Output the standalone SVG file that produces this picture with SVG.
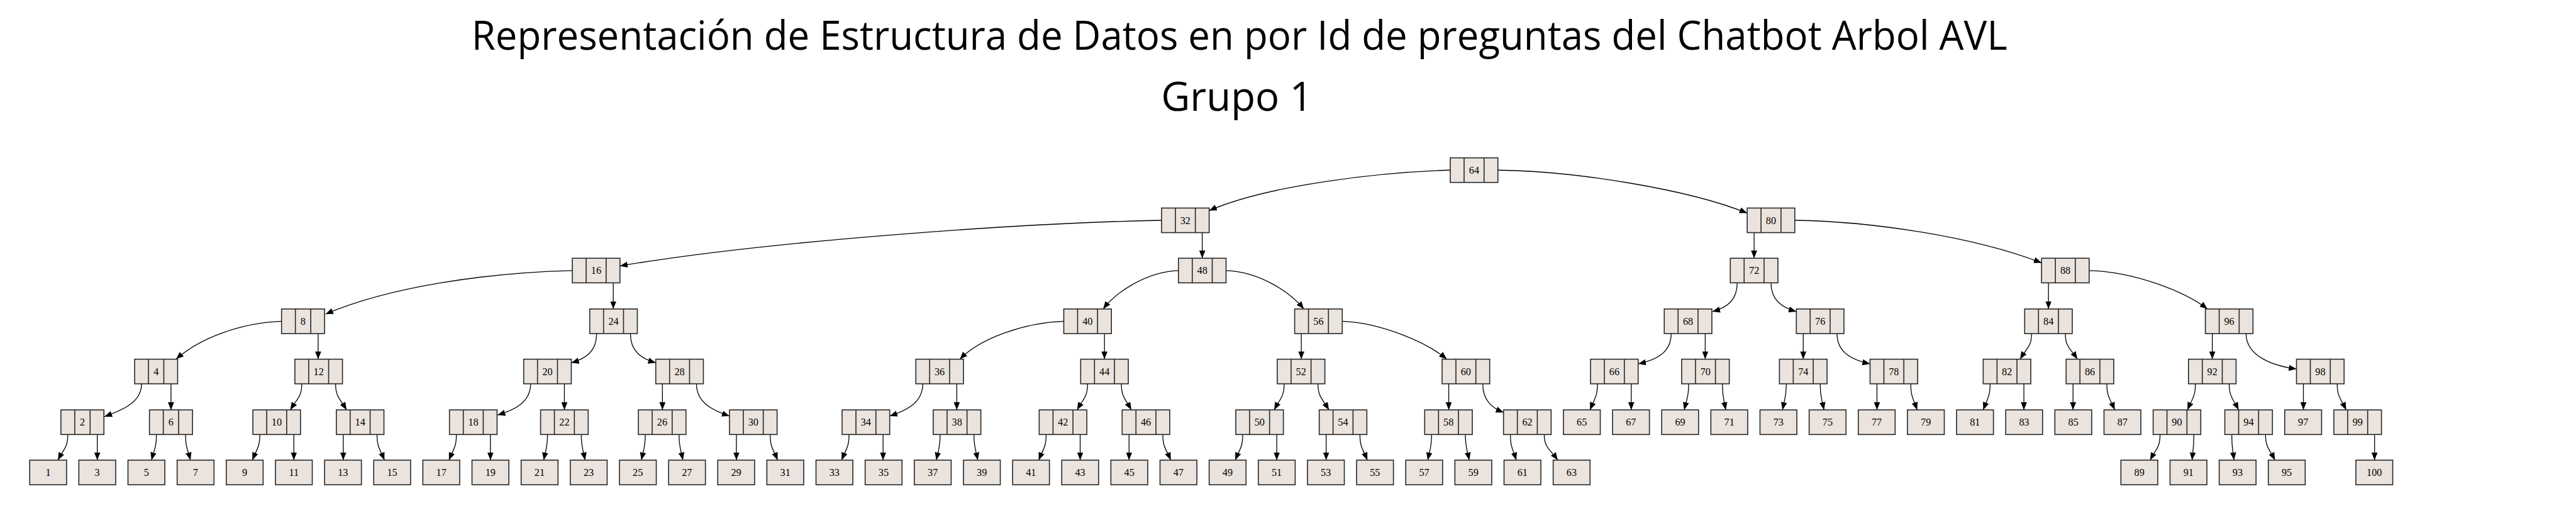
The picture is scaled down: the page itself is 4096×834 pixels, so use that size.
<svg xmlns="http://www.w3.org/2000/svg" width="4096" height="834" viewBox="0 0 4096 834">
<style>
.bx rect,.bx path{fill:#ebe3dd;stroke:#2b2b2b;stroke-width:2}
.n text{font-family:"Liberation Serif","Times New Roman",serif;font-size:20px;text-anchor:middle;fill:#000}
.e path{fill:none;stroke:#000;stroke-width:1.6;marker-end:url(#ah)}
.t{font-family:"Open Sans","Noto Sans",sans-serif;font-size:78px;text-anchor:middle;fill:#000}
</style>
<defs>
<marker id="ah" markerUnits="userSpaceOnUse" markerWidth="15" markerHeight="12" viewBox="0 0 15 12" refX="15" refY="6" orient="auto"><path d="M0,0L15,6L0,12z" fill="#000"/></marker>
<g id="t2" class="bx"><rect width="93" height="48"/><path d="M27,0V48M66,0V48"/></g>
<g id="t1" class="bx"><rect width="84" height="48"/><path d="M27,0V48M57,0V48"/></g>
<g id="t0" class="bx"><rect width="72" height="48"/></g>
</defs>
<rect width="4096" height="834" fill="#fff"/>
<g transform="scale(0.81399)">
<g id="title">
<text class="t" x="2421" y="97" textLength="3000" lengthAdjust="spacingAndGlyphs">Representación de Estructura de Datos en por Id de preguntas del Chatbot Arbol AVL</text>
<text class="t" x="2416" y="216">Grupo 1</text>
</g>
<g id="connectors" class="e">
<path d="M2833,332C2700,336 2480,360 2362,411"/>
<path d="M2926,332C3080,334 3300,370 3413,416"/>
<path d="M2269,430C2000,435 1500,470 1211,519"/>
<path d="M2348.5,454V504"/>
<path d="M3426.5,454V504"/>
<path d="M3506,430C3650,432 3850,460 3988,513"/>
<path d="M1118,528C950,532 760,560 636,613"/>
<path d="M1198,552V603"/>
<path d="M2302,528C2240,530 2180,570 2155,603"/>
<path d="M2395,528C2460,530 2520,570 2547,603"/>
<path d="M3393.5,552C3393.5,585 3375,600 3345,608"/>
<path d="M3459.5,552C3459.5,585 3480,600 3509,608"/>
<path d="M4001.5,552V603"/>
<path d="M4081,528C4170,530 4270,570 4312,603"/>
<path d="M550,627C470,630 390,660 344,701"/>
<path d="M621.5,651V701"/>
<path d="M1165.5,651C1165.5,685 1145,700 1116,708"/>
<path d="M1231.5,651C1231.5,685 1252,700 1281,708"/>
<path d="M2078,627C2000,630 1915,660 1875,701"/>
<path d="M2157.5,651V701"/>
<path d="M2542,651V701"/>
<path d="M2622,627C2700,630 2790,670 2826,701"/>
<path d="M3264.5,651C3264.5,688 3235,703 3200,710"/>
<path d="M3331,651V701"/>
<path d="M3522.5,651V701"/>
<path d="M3588.5,651C3588.5,688 3618,703 3653,710"/>
<path d="M3968.5,651C3968.5,676 3959.5,679 3946,701"/>
<path d="M4034.5,651C4034.5,676 4043.4,679 4058,701"/>
<path d="M4321.5,651V701"/>
<path d="M4387.5,651C4387.5,695 4440,714 4486,720"/>
<path d="M276.5,749C276.5,785 240,800 204,813"/>
<path d="M334,749V800"/>
<path d="M589.5,749C589.5,774 580.5,778 567,800"/>
<path d="M655.5,749C655.5,774 664.1,778 677,800"/>
<path d="M1036.5,749C1036.5,785 1005,800 972,810"/>
<path d="M1102.5,749V800"/>
<path d="M1294,749V800"/>
<path d="M1360.5,749C1360.5,785 1390,800 1425,812"/>
<path d="M1802.5,749C1802.5,785 1773,800 1738,812"/>
<path d="M1869,749V800"/>
<path d="M2124.5,749C2124.5,774 2116.3,778 2104,800"/>
<path d="M2190.5,749C2190.5,774 2197.8,778 2210,800"/>
<path d="M2508.5,749C2508.5,774 2500.7,778 2489,800"/>
<path d="M2574.5,749C2574.5,774 2582.9,778 2596,800"/>
<path d="M2830,749V800"/>
<path d="M2896.5,749C2896.5,782 2915,796 2937,805"/>
<path d="M3120.5,749C3120.5,774 3114.7,778 3106,800"/>
<path d="M3186.5,749V800"/>
<path d="M3298.5,749C3298.5,774 3295.1,778 3290,800"/>
<path d="M3364.5,749C3364.5,774 3367.1,778 3371,800"/>
<path d="M3489.5,749C3489.5,774 3486.5,778 3482,800"/>
<path d="M3555.5,749C3555.5,774 3558.5,778 3563,800"/>
<path d="M3666.5,749V800"/>
<path d="M3732.5,749C3732.5,774 3737.5,778 3745,800"/>
<path d="M3887.5,749C3887.5,774 3882.1,778 3874,800"/>
<path d="M3953.5,749V800"/>
<path d="M4049.5,749V800"/>
<path d="M4115.5,749C4115.5,774 4121.7,778 4131,800"/>
<path d="M4288.5,749C4288.5,774 4282.3,778 4273,800"/>
<path d="M4354.5,749C4354.5,774 4361.9,778 4373,800"/>
<path d="M4499.5,749V800"/>
<path d="M4565.5,749C4565.5,774 4572.5,778 4583,800"/>
<path d="M132.5,848C132.5,873 124.7,876 113,898"/>
<path d="M190,848V898"/>
<path d="M305.5,848C305.5,873 301.7,876 296,898"/>
<path d="M362.5,848C362.5,873 366.3,876 372,898"/>
<path d="M507.5,848C507.5,873 501.7,876 493,898"/>
<path d="M574,848V898"/>
<path d="M670.5,848V898"/>
<path d="M736.5,848C736.5,873 742.3,876 751,898"/>
<path d="M891.5,848C891.5,873 885.7,876 877,898"/>
<path d="M958,848V898"/>
<path d="M1069.5,848C1069.5,873 1066.5,876 1062,898"/>
<path d="M1135.5,848C1135.5,873 1138.5,876 1143,898"/>
<path d="M1260.5,848C1260.5,873 1257.5,876 1253,898"/>
<path d="M1326.5,848C1326.5,873 1329.5,876 1334,898"/>
<path d="M1438.5,848V898"/>
<path d="M1504.5,848C1504.5,873 1510.3,876 1519,898"/>
<path d="M1658.5,848C1658.5,873 1652.7,876 1644,898"/>
<path d="M1725,848V898"/>
<path d="M1836.5,848C1836.5,873 1833.5,876 1829,898"/>
<path d="M1902.5,848C1902.5,873 1905.5,876 1910,898"/>
<path d="M2043.5,848C2043.5,873 2037.7,876 2029,898"/>
<path d="M2110,848V898"/>
<path d="M2205.5,848V898"/>
<path d="M2271.5,848C2271.5,873 2277.7,876 2287,898"/>
<path d="M2427.5,848C2427.5,873 2421.7,876 2413,898"/>
<path d="M2494,848V898"/>
<path d="M2590.5,848V898"/>
<path d="M2656.5,848C2656.5,873 2662.3,876 2671,898"/>
<path d="M2796.5,848C2796.5,873 2793.5,876 2789,898"/>
<path d="M2862.5,848C2862.5,873 2865.5,876 2870,898"/>
<path d="M2950.5,848C2950.5,873 2955.1,876 2962,898"/>
<path d="M3016.5,848C3016.5,873 3027.1,876 3043,898"/>
<path d="M4219.5,848C4219.5,873 4211.7,876 4200,898"/>
<path d="M4285.5,848C4285.5,873 4284,876 4282,898"/>
<path d="M4359.5,848C4359.5,873 4361.3,876 4364,898"/>
<path d="M4425.5,848C4425.5,873 4432.9,876 4444,898"/>
<path d="M4638.5,848V898"/>
</g>
<g id="n64" class="n"><use href="#t2" x="2833" y="308"/><text x="2879.5" y="339">64</text></g>
<g id="n32" class="n"><use href="#t2" x="2269" y="406"/><text x="2315.5" y="437">32</text></g>
<g id="n80" class="n"><use href="#t2" x="3413" y="406"/><text x="3459.5" y="437">80</text></g>
<g id="n16" class="n"><use href="#t2" x="1118" y="504"/><text x="1164.5" y="535">16</text></g>
<g id="n48" class="n"><use href="#t2" x="2302" y="504"/><text x="2348.5" y="535">48</text></g>
<g id="n72" class="n"><use href="#t2" x="3380" y="504"/><text x="3426.5" y="535">72</text></g>
<g id="n88" class="n"><use href="#t2" x="3988" y="504"/><text x="4034.5" y="535">88</text></g>
<g id="n8" class="n"><use href="#t1" x="550" y="603"/><text x="592" y="634">8</text></g>
<g id="n24" class="n"><use href="#t2" x="1152" y="603"/><text x="1198.5" y="634">24</text></g>
<g id="n40" class="n"><use href="#t2" x="2078" y="603"/><text x="2124.5" y="634">40</text></g>
<g id="n56" class="n"><use href="#t2" x="2529" y="603"/><text x="2575.5" y="634">56</text></g>
<g id="n68" class="n"><use href="#t2" x="3251" y="603"/><text x="3297.5" y="634">68</text></g>
<g id="n76" class="n"><use href="#t2" x="3509" y="603"/><text x="3555.5" y="634">76</text></g>
<g id="n84" class="n"><use href="#t2" x="3955" y="603"/><text x="4001.5" y="634">84</text></g>
<g id="n96" class="n"><use href="#t2" x="4308" y="603"/><text x="4354.5" y="634">96</text></g>
<g id="n4" class="n"><use href="#t1" x="263" y="701"/><text x="305" y="732">4</text></g>
<g id="n12" class="n"><use href="#t2" x="576" y="701"/><text x="622.5" y="732">12</text></g>
<g id="n20" class="n"><use href="#t2" x="1023" y="701"/><text x="1069.5" y="732">20</text></g>
<g id="n28" class="n"><use href="#t2" x="1281" y="701"/><text x="1327.5" y="732">28</text></g>
<g id="n36" class="n"><use href="#t2" x="1789" y="701"/><text x="1835.5" y="732">36</text></g>
<g id="n44" class="n"><use href="#t2" x="2111" y="701"/><text x="2157.5" y="732">44</text></g>
<g id="n52" class="n"><use href="#t2" x="2495" y="701"/><text x="2541.5" y="732">52</text></g>
<g id="n60" class="n"><use href="#t2" x="2817" y="701"/><text x="2863.5" y="732">60</text></g>
<g id="n66" class="n"><use href="#t2" x="3107" y="701"/><text x="3153.5" y="732">66</text></g>
<g id="n70" class="n"><use href="#t2" x="3285" y="701"/><text x="3331.5" y="732">70</text></g>
<g id="n74" class="n"><use href="#t2" x="3476" y="701"/><text x="3522.5" y="732">74</text></g>
<g id="n78" class="n"><use href="#t2" x="3653" y="701"/><text x="3699.5" y="732">78</text></g>
<g id="n82" class="n"><use href="#t2" x="3874" y="701"/><text x="3920.5" y="732">82</text></g>
<g id="n86" class="n"><use href="#t2" x="4036" y="701"/><text x="4082.5" y="732">86</text></g>
<g id="n92" class="n"><use href="#t2" x="4275" y="701"/><text x="4321.5" y="732">92</text></g>
<g id="n98" class="n"><use href="#t2" x="4486" y="701"/><text x="4532.5" y="732">98</text></g>
<g id="n2" class="n"><use href="#t1" x="119" y="800"/><text x="161" y="831">2</text></g>
<g id="n6" class="n"><use href="#t1" x="292" y="800"/><text x="334" y="831">6</text></g>
<g id="n10" class="n"><use href="#t2" x="494" y="800"/><text x="540.5" y="831">10</text></g>
<g id="n14" class="n"><use href="#t2" x="657" y="800"/><text x="703.5" y="831">14</text></g>
<g id="n18" class="n"><use href="#t2" x="878" y="800"/><text x="924.5" y="831">18</text></g>
<g id="n22" class="n"><use href="#t2" x="1056" y="800"/><text x="1102.5" y="831">22</text></g>
<g id="n26" class="n"><use href="#t2" x="1247" y="800"/><text x="1293.5" y="831">26</text></g>
<g id="n30" class="n"><use href="#t2" x="1425" y="800"/><text x="1471.5" y="831">30</text></g>
<g id="n34" class="n"><use href="#t2" x="1645" y="800"/><text x="1691.5" y="831">34</text></g>
<g id="n38" class="n"><use href="#t2" x="1823" y="800"/><text x="1869.5" y="831">38</text></g>
<g id="n42" class="n"><use href="#t2" x="2030" y="800"/><text x="2076.5" y="831">42</text></g>
<g id="n46" class="n"><use href="#t2" x="2192" y="800"/><text x="2238.5" y="831">46</text></g>
<g id="n50" class="n"><use href="#t2" x="2414" y="800"/><text x="2460.5" y="831">50</text></g>
<g id="n54" class="n"><use href="#t2" x="2577" y="800"/><text x="2623.5" y="831">54</text></g>
<g id="n58" class="n"><use href="#t2" x="2783" y="800"/><text x="2829.5" y="831">58</text></g>
<g id="n62" class="n"><use href="#t2" x="2937" y="800"/><text x="2983.5" y="831">62</text></g>
<g id="n90" class="n"><use href="#t2" x="4206" y="800"/><text x="4252.5" y="831">90</text></g>
<g id="n94" class="n"><use href="#t2" x="4346" y="800"/><text x="4392.5" y="831">94</text></g>
<g id="n99" class="n"><use href="#t2" x="4559" y="800"/><text x="4605.5" y="831">99</text></g>
<g id="n65" class="n"><use href="#t0" x="3054" y="800"/><text x="3090" y="831">65</text></g>
<g id="n67" class="n"><use href="#t0" x="3150" y="800"/><text x="3186" y="831">67</text></g>
<g id="n69" class="n"><use href="#t0" x="3246" y="800"/><text x="3282" y="831">69</text></g>
<g id="n71" class="n"><use href="#t0" x="3342" y="800"/><text x="3378" y="831">71</text></g>
<g id="n73" class="n"><use href="#t0" x="3438" y="800"/><text x="3474" y="831">73</text></g>
<g id="n75" class="n"><use href="#t0" x="3534" y="800"/><text x="3570" y="831">75</text></g>
<g id="n77" class="n"><use href="#t0" x="3630" y="800"/><text x="3666" y="831">77</text></g>
<g id="n79" class="n"><use href="#t0" x="3726" y="800"/><text x="3762" y="831">79</text></g>
<g id="n81" class="n"><use href="#t0" x="3822" y="800"/><text x="3858" y="831">81</text></g>
<g id="n83" class="n"><use href="#t0" x="3918" y="800"/><text x="3954" y="831">83</text></g>
<g id="n85" class="n"><use href="#t0" x="4014" y="800"/><text x="4050" y="831">85</text></g>
<g id="n87" class="n"><use href="#t0" x="4110" y="800"/><text x="4146" y="831">87</text></g>
<g id="n97" class="n"><use href="#t0" x="4463" y="800"/><text x="4499" y="831">97</text></g>
<g id="n1" class="n"><use href="#t0" x="58" y="898"/><text x="94" y="929">1</text></g>
<g id="n3" class="n"><use href="#t0" x="154" y="898"/><text x="190" y="929">3</text></g>
<g id="n5" class="n"><use href="#t0" x="250" y="898"/><text x="286" y="929">5</text></g>
<g id="n7" class="n"><use href="#t0" x="346" y="898"/><text x="382" y="929">7</text></g>
<g id="n9" class="n"><use href="#t0" x="442" y="898"/><text x="478" y="929">9</text></g>
<g id="n11" class="n"><use href="#t0" x="538" y="898"/><text x="574" y="929">11</text></g>
<g id="n13" class="n"><use href="#t0" x="634" y="898"/><text x="670" y="929">13</text></g>
<g id="n15" class="n"><use href="#t0" x="730" y="898"/><text x="766" y="929">15</text></g>
<g id="n17" class="n"><use href="#t0" x="826" y="898"/><text x="862" y="929">17</text></g>
<g id="n19" class="n"><use href="#t0" x="922" y="898"/><text x="958" y="929">19</text></g>
<g id="n21" class="n"><use href="#t0" x="1018" y="898"/><text x="1054" y="929">21</text></g>
<g id="n23" class="n"><use href="#t0" x="1114" y="898"/><text x="1150" y="929">23</text></g>
<g id="n25" class="n"><use href="#t0" x="1210" y="898"/><text x="1246" y="929">25</text></g>
<g id="n27" class="n"><use href="#t0" x="1306" y="898"/><text x="1342" y="929">27</text></g>
<g id="n29" class="n"><use href="#t0" x="1402" y="898"/><text x="1438" y="929">29</text></g>
<g id="n31" class="n"><use href="#t0" x="1498" y="898"/><text x="1534" y="929">31</text></g>
<g id="n33" class="n"><use href="#t0" x="1594" y="898"/><text x="1630" y="929">33</text></g>
<g id="n35" class="n"><use href="#t0" x="1690" y="898"/><text x="1726" y="929">35</text></g>
<g id="n37" class="n"><use href="#t0" x="1786" y="898"/><text x="1822" y="929">37</text></g>
<g id="n39" class="n"><use href="#t0" x="1882" y="898"/><text x="1918" y="929">39</text></g>
<g id="n41" class="n"><use href="#t0" x="1978" y="898"/><text x="2014" y="929">41</text></g>
<g id="n43" class="n"><use href="#t0" x="2074" y="898"/><text x="2110" y="929">43</text></g>
<g id="n45" class="n"><use href="#t0" x="2170" y="898"/><text x="2206" y="929">45</text></g>
<g id="n47" class="n"><use href="#t0" x="2266" y="898"/><text x="2302" y="929">47</text></g>
<g id="n49" class="n"><use href="#t0" x="2362" y="898"/><text x="2398" y="929">49</text></g>
<g id="n51" class="n"><use href="#t0" x="2458" y="898"/><text x="2494" y="929">51</text></g>
<g id="n53" class="n"><use href="#t0" x="2554" y="898"/><text x="2590" y="929">53</text></g>
<g id="n55" class="n"><use href="#t0" x="2650" y="898"/><text x="2686" y="929">55</text></g>
<g id="n57" class="n"><use href="#t0" x="2746" y="898"/><text x="2782" y="929">57</text></g>
<g id="n59" class="n"><use href="#t0" x="2842" y="898"/><text x="2878" y="929">59</text></g>
<g id="n61" class="n"><use href="#t0" x="2938" y="898"/><text x="2974" y="929">61</text></g>
<g id="n63" class="n"><use href="#t0" x="3034" y="898"/><text x="3070" y="929">63</text></g>
<g id="n89" class="n"><use href="#t0" x="4143" y="898"/><text x="4179" y="929">89</text></g>
<g id="n91" class="n"><use href="#t0" x="4239" y="898"/><text x="4275" y="929">91</text></g>
<g id="n93" class="n"><use href="#t0" x="4335" y="898"/><text x="4371" y="929">93</text></g>
<g id="n95" class="n"><use href="#t0" x="4431" y="898"/><text x="4467" y="929">95</text></g>
<g id="n100" class="n"><use href="#t0" x="4602" y="898"/><text x="4638" y="929">100</text></g>
</g>
</svg>
